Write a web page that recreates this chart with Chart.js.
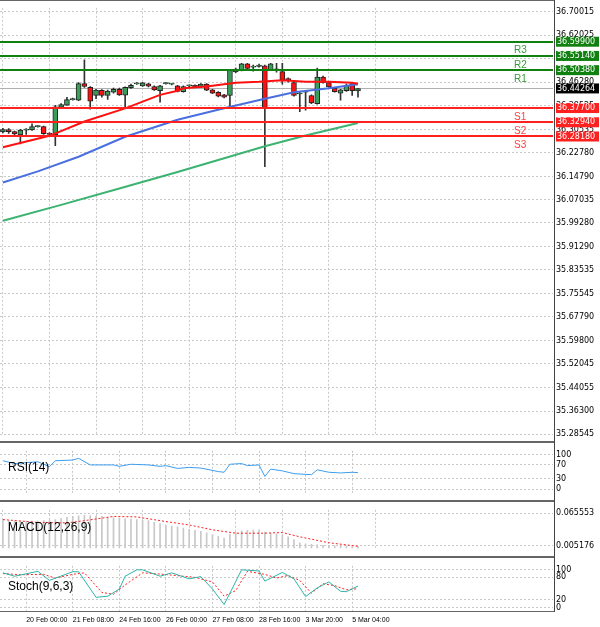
<!DOCTYPE html>
<html>
<head>
<meta charset="utf-8">
<script src="https://cdn.jsdelivr.net/npm/chart.js@4.4.1/dist/chart.umd.min.js"></script>
<style>
  body { margin: 0; background: #fff; font-family: "Liberation Sans", Arial, sans-serif; }
  #wrap { position: relative; width: 600px; height: 627px; overflow: hidden; }
  canvas { position: absolute; left: 0; }
  .sep { position: absolute; left: 0; width: 555px; height: 2px; background: #666; }
  .vline { position: absolute; left: 554px; top: 0; width: 1px; height: 612px; background: #444; }
  .lbl { position: absolute; left: 8px; font-size: 12px; color: #000; }
</style>
</head>
<body>
<div id="wrap">
  <canvas id="main" width="600" height="442" style="top:0"></canvas>
  <canvas id="rsi" width="600" height="58" style="top:443px"></canvas>
  <canvas id="macd" width="600" height="54" style="top:502px"></canvas>
  <canvas id="stoch" width="600" height="69" style="top:558px"></canvas>
  <div class="sep" style="top:441px"></div>
  <div class="sep" style="top:500px"></div>
  <div class="sep" style="top:556px"></div>
  <div class="sep" style="top:611px;height:1px"></div>
  <div class="sep" style="top:0;height:1px"></div>
  <div class="vline"></div>
  <div class="lbl" style="top:460px">RSI(14)</div>
  <div class="lbl" style="top:520px">MACD(12,26,9)</div>
  <div class="lbl" style="top:579px">Stoch(9,6,3)</div>
</div>
<script>
// 4h candles, slot count includes empty space on the right
const SLOTS = 95;
const dateTickIdx = [4, 12, 20, 28, 36, 44, 52, 60];
const dateTickText = ["20 Feb 00:00", "21 Feb 08:00", "24 Feb 16:00", "26 Feb 00:00",
  "27 Feb 08:00", "28 Feb 16:00", "3 Mar 20:00", "5 Mar 04:00"];

const opens  = [36.297,36.305,36.298,36.287,36.303,36.304,36.315,36.315,36.290,36.287,36.380,36.387,36.405,36.403,36.459,36.446,36.419,36.436,36.419,36.430,36.440,36.420,36.445,36.458,36.451,36.458,36.449,36.435,36.459,36.457,36.451,36.432,36.451,36.453,36.449,36.457,36.438,36.430,36.421,36.419,36.498,36.503,36.525,36.514,36.516,36.518,36.505,36.505,36.499,36.473,36.462,36.424,36.430,36.419,36.392,36.481,36.462,36.443,36.427,36.435,36.459,36.434];
const highs  = [36.309,36.308,36.300,36.306,36.308,36.324,36.318,36.317,36.295,36.386,36.392,36.413,36.410,36.462,36.538,36.449,36.440,36.439,36.437,36.444,36.444,36.448,36.457,36.462,36.463,36.460,36.451,36.453,36.462,36.460,36.453,36.451,36.454,36.455,36.459,36.459,36.440,36.432,36.423,36.505,36.511,36.527,36.527,36.521,36.524,36.521,36.527,36.527,36.527,36.478,36.464,36.430,36.435,36.421,36.511,36.484,36.464,36.445,36.440,36.457,36.462,36.443];
const lows   = [36.294,36.292,36.284,36.257,36.289,36.302,36.313,36.289,36.284,36.251,36.378,36.386,36.403,36.402,36.446,36.373,36.408,36.413,36.406,36.427,36.419,36.381,36.443,36.456,36.449,36.448,36.436,36.397,36.457,36.454,36.431,36.430,36.448,36.446,36.447,36.435,36.425,36.414,36.411,36.384,36.495,36.501,36.507,36.500,36.514,36.181,36.503,36.497,36.457,36.464,36.417,36.365,36.370,36.392,36.390,36.460,36.446,36.430,36.403,36.433,36.419,36.413];
const closes = [36.305,36.298,36.290,36.303,36.304,36.315,36.316,36.291,36.289,36.381,36.389,36.405,36.407,36.459,36.449,36.400,36.437,36.419,36.434,36.440,36.421,36.446,36.453,36.459,36.461,36.450,36.438,36.451,36.460,36.458,36.433,36.449,36.452,36.448,36.457,36.437,36.427,36.417,36.413,36.503,36.507,36.525,36.510,36.515,36.521,36.378,36.525,36.506,36.471,36.472,36.419,36.425,36.431,36.394,36.481,36.462,36.448,36.432,36.438,36.453,36.435,36.442];

// moving averages, read at selected bars
const maFastIdx = [0, 8, 14, 21, 27, 30, 31, 35, 40, 44, 48, 52, 56, 60, 61];
const maFastVal = [36.246,36.284,36.332,36.376,36.421,36.435,36.443,36.449,36.462,36.465,36.470,36.465,36.465,36.462,36.458];
const maMidIdx = [0, 6, 13, 21, 30, 38, 45, 50, 56, 61];
const maMidVal = [36.128,36.165,36.214,36.281,36.338,36.376,36.408,36.430,36.443,36.457];
const maSlowIdx = [0, 10, 20, 30, 45, 52, 61];
const maSlowVal = [36.000,36.053,36.108,36.163,36.249,36.285,36.327];

const resistLevels = [36.5990, 36.5514, 36.5038];
const resistNames = ["R3", "R2", "R1"];
const supportLevels = [36.3770, 36.3294, 36.2818];
const supportNames = ["S1", "S2", "S3"];
const lastPrice = 36.44264;
const priceTicks = [36.70015,36.62025,36.54270,36.46280,36.38525,36.30535,36.22780,36.14790,36.07035,35.99280,35.91290,35.83535,35.75545,35.67790,35.59800,35.52045,35.44055,35.36300,35.28545];

const rsiIdx = [0,2,6,8,9,12,13,15,19,20,22,25,27,28,30,32,34,37,38,39,41,42,44,45,46,48,50,53,54,56,58,60,61];
const rsiVal = [82,74,79,65,82,84,89,70,70,66,72,70,66,68,60,63,61,51,49,72,74,68,70,37,58,53,45,42,56,49,47,49,48];

const macdHist = [0.053,0.052,0.051,0.051,0.051,0.051,0.051,0.052,0.052,0.054,0.056,0.058,
  0.0598,0.061,0.062,0.0615,0.0607,0.060,0.058,0.0576,0.057,0.056,0.055,0.054,
  0.053,0.052,0.049,0.0465,0.044,0.042,0.0407,0.038,0.036,0.034,0.032,0.0296,
  0.026,0.0229,0.0198,0.0265,0.030,0.0332,0.034,0.0345,0.035,0.031,0.029,0.0274,
  0.025,0.022,0.0167,0.011,0.009,0.0078,0.007,0.006,0.006,0.005,0.005,0.005,0.004,0.004];
const macdSigIdx = [0,6,11,14,19,23,27,32,36,40,45,48,51,56,61];
const macdSigVal = [0.054,0.0487,0.0478,0.052,0.0598,0.059,0.052,0.044,0.035,0.0287,0.0287,0.030,0.022,0.011,0.0043];

const stochIdx = [0,2,6,8,12,13,16,18,20,21,23,24,27,29,32,34,36,38,39,41,44,45,48,50,52,54,56,58,59,61];
const stochVal = [92,83,96,72,95,95,27,30,49,83,100,100,83,92,76,82,49,8,38,100,97,70,93,76,29,52,68,43,42,57];
const stochSigIdx = [0,3,7,9,12,14,17,19,21,24,26,29,33,36,38,40,42,45,47,49,51,53,55,57,59,61];
const stochSigVal = [90,87,88,78,88,92,40,35,60,92,90,86,80,68,30,45,96,88,78,85,72,38,63,58,47,50];

const labels = Array.from({ length: SLOTS }, (_, i) => {
  const k = dateTickIdx.indexOf(i);
  return k >= 0 ? dateTickText[k] : "";
});

function sparse(idx, vals) {
  const arr = new Array(62).fill(null);
  idx.forEach((i, k) => { arr[i] = vals[k]; });
  return arr;
}

// shared x axis: dashed grid at the date ticks only
function xAxis(showLabels) {
  return {
    type: "category",
    offset: true,
    afterBuildTicks: s => { s.ticks = dateTickIdx.map(v => ({ value: v })); },
    afterFit: s => { s.height = showLabels ? 15 : 0; },
    grid: { color: "#c8c8c8", drawTicks: false },
    border: { display: false, dash: [2, 2] },
    ticks: {
      display: showLabels, autoSkip: false, maxRotation: 0, align: "start", padding: 4,
      font: { size: 7, family: "Liberation Sans" }, color: "#000",
      callback: function (v) { return this.getLabelForValue(v); }
    }
  };
}

function yAxis(min, max, tickVals, fmt) {
  return {
    position: "right", min: min, max: max,
    afterBuildTicks: s => { s.ticks = tickVals.map(v => ({ value: v })); },
    afterFit: s => { s.width = 47; },
    grid: { color: "#c8c8c8", drawTicks: false },
    border: { display: false, dash: [2, 2] },
    ticks: { padding: 3, font: { size: 8, family: "DejaVu Sans" }, color: "#000", callback: fmt }
  };
}

const baseOpts = {
  responsive: false, animation: false, devicePixelRatio: 1,
  plugins: { legend: { display: false }, tooltip: { enabled: false } },
  layout: { padding: 0 }
};

const levelPlugin = {
  id: "levels",
  beforeDatasetsDraw(chart) {
    const { ctx, chartArea, scales } = chart;
    const y = scales.y;
    ctx.save();
    ctx.strokeStyle = "#b0b0b0"; ctx.lineWidth = 1;
    const py = Math.round(y.getPixelForValue(lastPrice)) + 0.5;
    ctx.beginPath(); ctx.moveTo(chartArea.left, py); ctx.lineTo(chartArea.right, py); ctx.stroke();
    ctx.restore();
  },
  afterDatasetsDraw(chart) {
    const { ctx, chartArea, scales } = chart;
    const y = scales.y;
    ctx.save();
    const drawLevel = (v, color) => {
      const py = Math.round(y.getPixelForValue(v));
      ctx.fillStyle = color;
      ctx.fillRect(chartArea.left, py - 1, chartArea.right - chartArea.left, 2);
    };
    resistLevels.forEach(v => drawLevel(v, "#108010"));
    supportLevels.forEach(v => drawLevel(v, "#ff2020"));
    ctx.font = "10px 'Liberation Sans'";
    ctx.textBaseline = "middle";
    resistLevels.forEach((v, i) => {
      ctx.fillStyle = "#3a9a3a";
      ctx.fillText(resistNames[i], 514, y.getPixelForValue(v) + 9);
    });
    supportLevels.forEach((v, i) => {
      ctx.fillStyle = "#ff4040";
      ctx.fillText(supportNames[i], 514, y.getPixelForValue(v) + 9);
    });
    ctx.restore();
  },
  afterDraw(chart) {
    const { ctx, scales } = chart;
    const y = scales.y;
    ctx.save();
    ctx.font = "8px 'DejaVu Sans'";
    ctx.textBaseline = "middle";
    const box = (v, bg) => {
      const py = y.getPixelForValue(v);
      ctx.fillStyle = bg;
      ctx.fillRect(556, py - 5, 43, 10);
      ctx.fillStyle = "#fff";
      ctx.fillText(v.toFixed(5), 557, py);
    };
    resistLevels.forEach(v => box(v, "#108010"));
    supportLevels.forEach(v => box(v, "#ff2020"));
    box(lastPrice, "#000");
    ctx.restore();
  }
};

new Chart(document.getElementById("main"), {
  type: "bar",
  data: {
    labels: labels,
    datasets: [
      { type: "line", data: sparse(maFastIdx, maFastVal), borderColor: "#ff1010", borderWidth: 2, pointRadius: 0, spanGaps: true, order: 0 },
      { type: "line", data: sparse(maMidIdx, maMidVal), borderColor: "#4a6fe0", borderWidth: 2, pointRadius: 0, spanGaps: true, order: 0 },
      { type: "line", data: sparse(maSlowIdx, maSlowVal), borderColor: "#3cb371", borderWidth: 2, pointRadius: 0, spanGaps: true, order: 0 },
      { data: opens.map((o, i) => [o, closes[i]]), backgroundColor: opens.map((o, i) => closes[i] >= o ? "#3a9d5a" : "#ff1010"),
        borderColor: "#222", borderWidth: 1, borderSkipped: false, barThickness: 5, minBarLength: 1, grouped: false, order: 1 },
      { data: lows.map((l, i) => [l, highs[i]]), backgroundColor: "#333", barThickness: 1, grouped: false, order: 2 }
    ]
  },
  options: Object.assign({}, baseOpts, {
    layout: { padding: { top: 3, bottom: 2 } },
    scales: {
      x: xAxis(false),
      y: yAxis(35.28545, 36.7125, priceTicks, v => v.toFixed(5))
    }
  }),
  plugins: [levelPlugin]
});

new Chart(document.getElementById("rsi"), {
  type: "line",
  data: { labels: labels, datasets: [
    { data: sparse(rsiIdx, rsiVal), borderColor: "#3d9df0", borderWidth: 1, pointRadius: 0, spanGaps: true }
  ] },
  options: Object.assign({}, baseOpts, {
    scales: { x: xAxis(false), y: yAxis(-11, 110.5, [100, 70, 30, 0], v => String(v)) }
  })
});

new Chart(document.getElementById("macd"), {
  type: "bar",
  data: { labels: labels, datasets: [
    { type: "line", data: sparse(macdSigIdx, macdSigVal), borderColor: "#ff2020", borderWidth: 1, borderDash: [2, 2], pointRadius: 0, spanGaps: true, order: 0 },
    { data: macdHist, backgroundColor: "#c8c8c8", barThickness: 1, order: 1 }
  ] },
  options: Object.assign({}, baseOpts, {
    scales: { x: xAxis(false), y: yAxis(0.00082, 0.07216, [0.065553, 0.005176], v => v.toFixed(6)) }
  })
});

new Chart(document.getElementById("stoch"), {
  type: "line",
  data: { labels: labels, datasets: [
    { data: sparse(stochIdx, stochVal), borderColor: "#2cb5a8", borderWidth: 1, pointRadius: 0, spanGaps: true },
    { data: sparse(stochSigIdx, stochSigVal), borderColor: "#ff2020", borderWidth: 1, borderDash: [2, 2], pointRadius: 0, spanGaps: true }
  ] },
  options: Object.assign({}, baseOpts, {
    scales: { x: xAxis(true), y: yAxis(-12, 110.7, [100, 80, 20, 0], v => String(v)) }
  })
});
</script>
</body>
</html>
